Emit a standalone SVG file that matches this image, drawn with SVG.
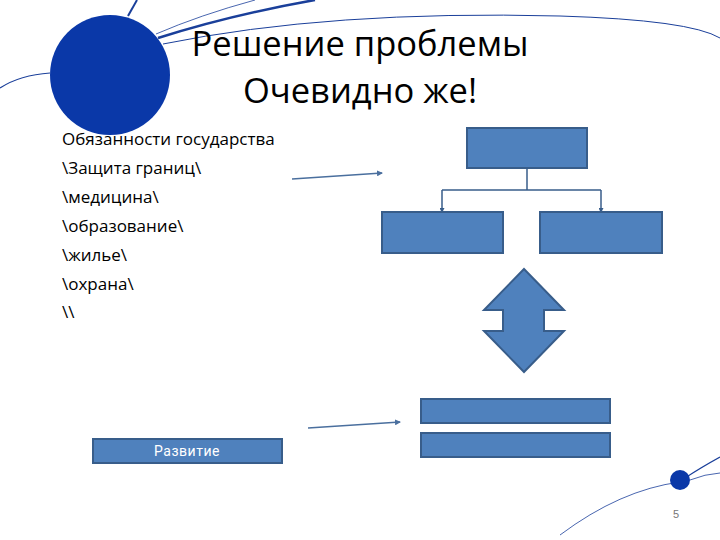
<svg xmlns="http://www.w3.org/2000/svg" width="720" height="540" viewBox="0 0 720 540">
<style>
.box{fill:#4F81BD;stroke:#385D8A;stroke-width:2}
.title{font-family:"Open Sans","Liberation Sans",sans-serif;font-size:34.5px;fill:#000;text-anchor:middle}
.body{font-family:"Open Sans","Liberation Sans",sans-serif;font-size:17px;fill:#000}
.deco{fill:none;stroke:#1a3f9a}
.conn{fill:none;stroke:#4a6f9e;stroke-width:1.5}
</style>
<defs>
<marker id="ah" markerWidth="6" markerHeight="6" refX="5" refY="3" orient="auto" markerUnits="userSpaceOnUse">
<path d="M0,0 L6,3 L0,6 z" fill="#4a6f9e"/>
</marker>
<marker id="ah2" markerWidth="5" markerHeight="5" refX="4" refY="2.5" orient="auto" markerUnits="userSpaceOnUse">
<path d="M0,0 L5,2.5 L0,5 z" fill="#385D8A"/>
</marker>
</defs>
<rect width="720" height="540" fill="#fff"/>
<g id="decor">
<path class="deco" d="M128,16 L137,0" stroke-width="2"/>
<path class="deco" d="M158,38 Q230,15 315,0" stroke-width="2.5"/>
<path class="deco" d="M156,34 Q200,15 255,0" stroke-width="0.8"/>
<path class="deco" d="M163,44 Q330,10 560,16 Q690,20 720,38" stroke-width="1"/>
<path class="deco" d="M0,88 Q20,75 50,73" stroke-width="1.2"/>
<ellipse cx="110" cy="75" rx="60" ry="60" fill="#0a38a8"/>
<path class="deco" d="M560,535 Q620,490 680,482" stroke-width="0.8"/>
<path class="deco" d="M685,478 Q700,468 720,457" stroke-width="1.2"/>
<path class="deco" d="M690,480 Q705,474 720,473" stroke-width="0.8"/>
<circle cx="680" cy="480" r="10" fill="#0a38a8"/>
<text x="673" y="518" font-family="Liberation Sans,sans-serif" font-size="11" fill="#777">5</text>
</g>
<g id="title">
<text class="title" x="360" y="56">Решение проблемы</text>
<text class="title" x="360" y="103">Очевидно же!</text>
</g>
<g id="list">
<text class="body" x="62" y="145">Обязанности государства</text>
<text class="body" x="62" y="174">\Защита границ\</text>
<text class="body" x="62" y="203">\медицина\</text>
<text class="body" x="62" y="232">\образование\</text>
<text class="body" x="62" y="261">\жилье\</text>
<text class="body" x="62" y="290">\охрана\</text>
<text class="body" x="62" y="318">\\</text>
</g>
<g id="connectors">
<path class="conn" d="M292,179 L382,173" marker-end="url(#ah)"/>
<path class="conn" d="M308,428 L400,422" marker-end="url(#ah)"/>
<path fill="none" stroke="#385D8A" stroke-width="1.5" d="M527,168 V190 M442,190 H601 M442,190 V212" marker-end="url(#ah2)"/>
<path fill="none" stroke="#385D8A" stroke-width="1.5" d="M601,190 V212" marker-end="url(#ah2)"/>
</g>
<g id="top-box"><rect class="box" x="467" y="128" width="120" height="40"/></g>
<g id="left-box"><rect class="box" x="382" y="212" width="121" height="41"/></g>
<g id="right-box"><rect class="box" x="540" y="212" width="122" height="41"/></g>
<g id="double-arrow"><path class="box" d="M524,269 L564,310 L544,310 L544,331 L564,331 L524,372 L484,331 L503,331 L503,310 L484,310 Z"/></g>
<g id="bar1"><rect class="box" x="421" y="399" width="189" height="24"/></g>
<g id="bar2"><rect class="box" x="421" y="433" width="189" height="24"/></g>
<g id="razvitie">
<rect class="box" x="93" y="439" width="189" height="24"/>
<text x="187" y="456" font-family="Roboto,Liberation Sans,sans-serif" font-size="14" fill="#fff" text-anchor="middle" letter-spacing="0.5">Развитие</text>
</g>
</svg>
